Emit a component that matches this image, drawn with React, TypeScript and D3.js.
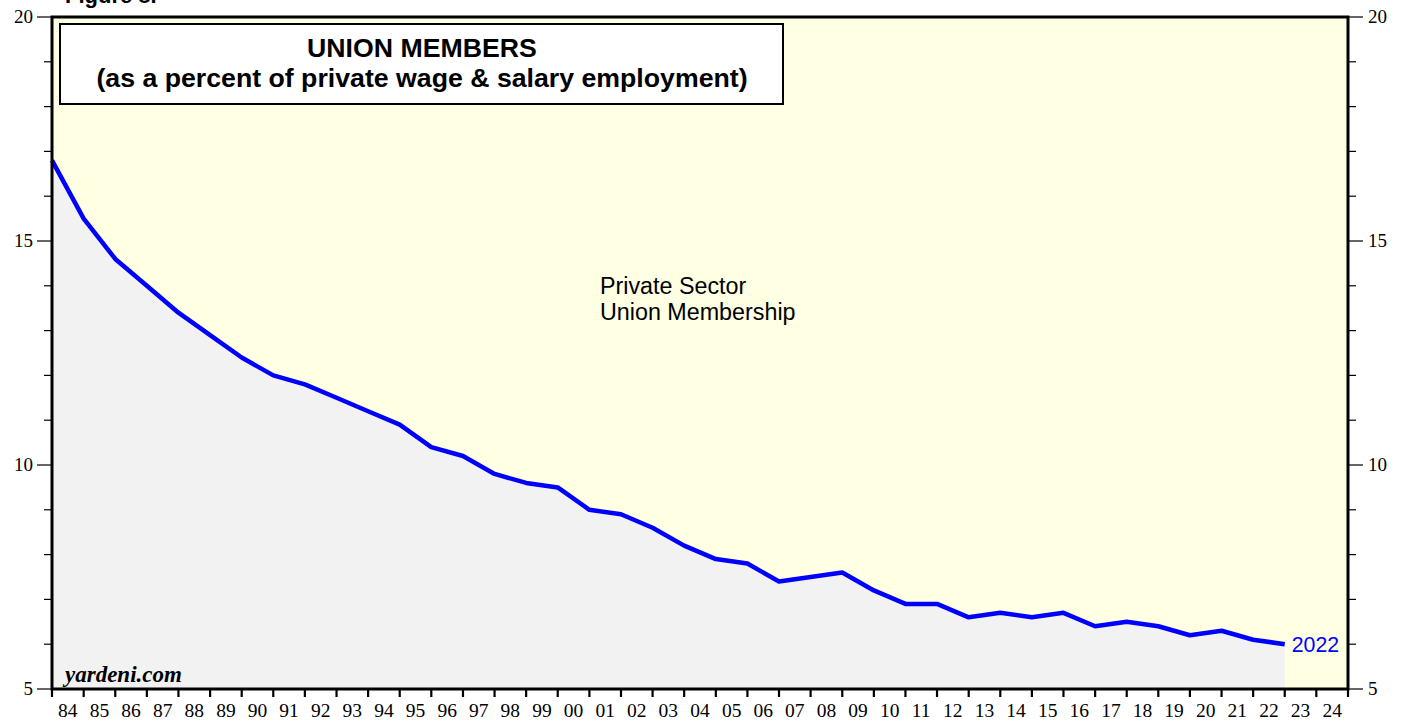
import React, { useEffect, useRef } from 'react';
import * as d3 from 'd3';

// private sector union membership rate, % (annual, 1983-2022)
const years = [
  1983, 1984, 1985, 1986, 1987, 1988, 1989, 1990, 1991, 1992,
  1993, 1994, 1995, 1996, 1997, 1998, 1999, 2000, 2001, 2002,
  2003, 2004, 2005, 2006, 2007, 2008, 2009, 2010, 2011, 2012,
  2013, 2014, 2015, 2016, 2017, 2018, 2019, 2020, 2021, 2022,
];
const rates = [
  16.8, 15.5, 14.6, 14.0, 13.4, 12.9, 12.4, 12.0, 11.8, 11.5,
  11.2, 10.9, 10.4, 10.2, 9.8, 9.6, 9.5, 9.0, 8.9, 8.6,
  8.2, 7.9, 7.8, 7.4, 7.5, 7.6, 7.2, 6.9, 6.9, 6.6,
  6.7, 6.6, 6.7, 6.4, 6.5, 6.4, 6.2, 6.3, 6.1, 6.0,
];
const yTicks = [5, 10, 15, 20];
const xLabels = d3.range(1984, 2025);

export default function App() {
  const ref = useRef<SVGSVGElement>(null);

  useEffect(() => {
    const W = 1408, H = 723;
    const margin = { top: 17, right: 60, bottom: 34, left: 52 };
    const svg = d3.select(ref.current);
    svg.selectAll('*').remove();

    const x = d3.scaleTime()
      .domain([new Date(1984, 0, 1), new Date(2025, 0, 1)])
      .range([margin.left, W - margin.right]);
    const y = d3.scaleLinear().domain([5, 20]).range([H - margin.bottom, margin.top]);
    const x0 = margin.left, x1 = W - margin.right, y0 = margin.top, y1 = H - margin.bottom;

    // point for year Y sits at the start of Y+1
    const data = years.map((yr, i) => ({ date: new Date(yr + 1, 0, 1), v: rates[i] }));

    svg.append('rect').attr('x', x0).attr('y', y0).attr('width', x1 - x0).attr('height', y1 - y0)
      .attr('fill', '#ffffe3');

    const area = d3.area<{ date: Date; v: number }>()
      .x(d => x(d.date)).y0(y1).y1(d => y(d.v));
    svg.append('path').datum(data).attr('d', area).attr('fill', '#f2f2f2');

    const line = d3.line<{ date: Date; v: number }>().x(d => x(d.date)).y(d => y(d.v));
    svg.append('path').datum(data).attr('d', line)
      .attr('fill', 'none').attr('stroke', '#0000ff').attr('stroke-width', 4.5)
      .attr('stroke-linejoin', 'round');

    // y axes: minor ticks every 1, labels on 5s
    const minor = d3.range(5, 21);
    minor.forEach(v => {
      const major = v % 5 === 0;
      svg.append('line').attr('x1', x0 - (major ? 15 : 8)).attr('x2', x0)
        .attr('y1', y(v)).attr('y2', y(v)).attr('stroke', '#000').attr('stroke-width', 1.2);
      svg.append('line').attr('x1', x1).attr('x2', x1 + (major ? 15 : 8))
        .attr('y1', y(v)).attr('y2', y(v)).attr('stroke', '#000').attr('stroke-width', 1.2);
    });
    yTicks.forEach(v => {
      svg.append('text').attr('x', 33).attr('y', y(v) + 6).attr('text-anchor', 'end')
        .attr('font-family', 'Liberation Serif, serif').attr('font-size', 19).text(v);
      svg.append('text').attr('x', x1 + 20).attr('y', y(v) + 6)
        .attr('font-family', 'Liberation Serif, serif').attr('font-size', 19).text(v);
    });

    // x axis ticks at year starts, labels centered on year
    d3.range(1984, 2026).forEach(yr => {
      const px = x(new Date(yr, 0, 1));
      svg.append('line').attr('x1', px).attr('x2', px).attr('y1', y1).attr('y2', y1 + 8)
        .attr('stroke', '#000').attr('stroke-width', 2.2);
    });
    xLabels.forEach(yr => {
      const px = (x(new Date(yr, 0, 1)) + x(new Date(yr + 1, 0, 1))) / 2;
      svg.append('text').attr('x', px).attr('y', y1 + 28).attr('text-anchor', 'middle')
        .attr('font-family', 'Liberation Serif, serif').attr('font-size', 19.5)
        .text(String(yr % 100).padStart(2, '0'));
    });

    // frame
    svg.append('rect').attr('x', x0).attr('y', y0).attr('width', x1 - x0).attr('height', y1 - y0)
      .attr('fill', 'none').attr('stroke', '#000').attr('stroke-width', 3);

    // title box
    svg.append('rect').attr('x', 60).attr('y', 24).attr('width', 723).attr('height', 80)
      .attr('fill', '#fff').attr('stroke', '#000').attr('stroke-width', 2);
    const title = svg.append('text').attr('text-anchor', 'middle')
      .attr('font-family', 'Liberation Sans, Arial, sans-serif').attr('font-weight', 'bold').attr('font-size', 26.7);
    title.append('tspan').attr('x', 422).attr('y', 57).text('UNION MEMBERS');
    title.append('tspan').attr('x', 422).attr('y', 87).text('(as a percent of private wage & salary employment)');

    svg.append('text').attr('x', 65).attr('y', 3)
      .attr('font-family', 'Liberation Sans, Arial, sans-serif').attr('font-weight', 'bold').attr('font-size', 22)
      .text('Figure 8.');

    const lbl = svg.append('text').attr('font-family', 'Liberation Sans, Arial, sans-serif').attr('font-size', 23.3);
    lbl.append('tspan').attr('x', 600).attr('y', 294).text('Private Sector');
    lbl.append('tspan').attr('x', 600).attr('y', 320).text('Union Membership');

    const last = data[data.length - 1];
    svg.append('text').attr('x', x(last.date) + 7).attr('y', y(last.v) + 8)
      .attr('font-family', 'Liberation Sans, Arial, sans-serif').attr('font-size', 21.3).attr('fill', '#0000ff')
      .text('2022');

    svg.append('text').attr('x', 65).attr('y', 682)
      .attr('font-family', 'Liberation Serif, serif').attr('font-weight', 'bold').attr('font-style', 'italic')
      .attr('font-size', 23).text('yardeni.com');
  }, []);

  return (
    <svg ref={ref} width={1408} height={723}
      style={{ position: 'absolute', left: 0, top: 0, background: '#fff' }} />
  );
}
